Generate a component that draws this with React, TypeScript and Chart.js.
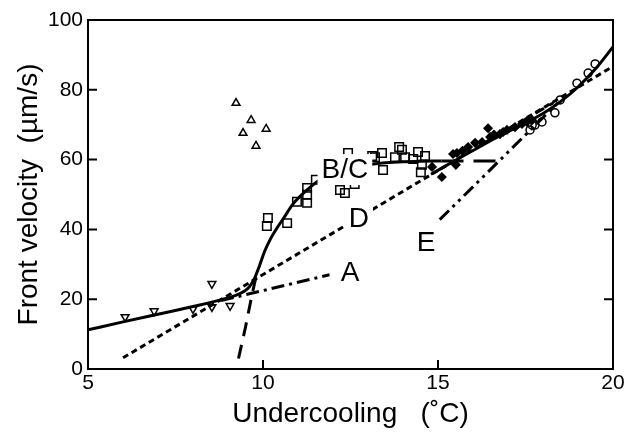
import { useEffect, useRef } from "react";
import { Chart, registerables } from "chart.js";
Chart.register(...registerables);

// ---- data ----
const xTickValues = [5, 10, 15, 20];
const yTickValues = [0, 20, 40, 60, 80, 100];

const triDownX = [6.06, 6.89, 8.0, 8.54, 8.54, 9.06];
const triDownY = [14.9, 16.6, 17.2, 24.4, 17.8, 18.1];

const triUpX = [9.23, 9.43, 9.66, 9.8, 10.09];
const triUpY = [76.2, 67.6, 71.3, 63.9, 68.8];

const squareX = [10.14, 10.11, 10.69, 10.97, 11.26, 11.26, 11.26, 11.51, 12.2, 12.34, 12.43, 12.62,
  13.12, 13.2, 13.4, 13.43, 13.77, 13.89, 13.97, 14.06, 14.29, 14.43, 14.63, 14.51, 14.54];
const squareY = [43.3, 41.0, 41.8, 47.9, 47.6, 49.9, 51.9, 54.2, 51.3, 50.4, 61.9, 53.0,
  61.0, 60.7, 61.9, 57.0, 60.7, 63.6, 62.8, 60.7, 60.2, 62.2, 61.0, 56.4, 58.5];

const diamondX = [14.83, 15.11, 15.43, 15.54, 15.51, 15.7, 15.86, 16.06, 16.26, 16.43, 16.49, 16.6,
  16.77, 16.86, 16.97, 17.2, 17.4, 17.54, 17.69];
const diamondY = [57.9, 55.0, 61.6, 61.9, 58.5, 62.5, 63.6, 64.8, 65.0, 69.0, 66.5, 67.2,
  67.3, 67.9, 68.5, 69.3, 70.2, 70.8, 71.3];

const circleX = [17.63, 17.69, 17.77, 17.97, 18.34, 18.49, 18.97, 19.29, 19.49];
const circleY = [68.5, 69.9, 69.9, 70.8, 73.4, 77.1, 81.9, 84.8, 87.4];

// fitted curves / lines
const lowCurveX = [5, 6, 7, 8, 8.8, 9.2, 9.45, 9.6, 9.75, 9.9, 10.05, 10.2, 10.4, 10.6, 10.86, 11.26, 11.6, 12.3, 13.0, 13.5, 14.0, 14.5, 15.1];
const lowCurveY = [11.2, 13.5, 15.7, 17.9, 19.8, 21.0, 22.2, 23.4, 25.8, 29.6, 33.8, 37.0, 40.4, 43.4, 47.3, 51.3, 54.0, 56.9, 58.5, 59.1, 59.4, 59.5, 59.6];

const steepDashX = [9.3, 9.5, 9.65, 9.8];
const steepDashY = [3.0, 12.0, 19.5, 26.5];

const plateauDashX = [15.1, 16.0, 16.75, 16.85];
const plateauDashY = [59.6, 59.6, 59.6, 60.4];

const lineAX = [8.8, 11.9];
const lineAY = [19.6, 27.0];

const lineDX = [6.0, 20.0];
const lineDY = [3.2, 86.7];

const lineEX = [15.05, 18.5];
const lineEY = [42.8, 77.0];

const upperCurveX = [14.8, 15.5, 16.0, 16.5, 17.0, 17.5, 18.0, 18.5, 19.0, 19.5, 20.0];
const upperCurveY = [55.8, 59.8, 62.6, 65.4, 68.0, 70.5, 73.2, 76.6, 80.8, 86.0, 92.3];

const upperDashX = [16.6, 18.3];
const upperDashY = [66.3, 76.3];

const labelTexts = ["B/C", "D", "A", "E"];
const labelXs = [12.34, 12.74, 12.49, 14.66];
const labelYs = [57.3, 43.3, 27.8, 36.4];

const xTitle = "Undercooling   (\u02DAC)";
const yTitle = "Front velocity  (\u00B5m/s)";

const FONT = "'Liberation Sans', Arial, Helvetica, sans-serif";

const pts = (xs: number[], ys: number[]) => xs.map((x, i) => ({ x, y: ys[i] }));

const framePlugin = {
  id: "framePlugin",
  afterDatasetsDraw(chart: any) {
    const { ctx, chartArea: a, scales } = chart;
    const xs = scales.x;
    const ys = scales.y;
    ctx.save();
    // labels with white boxes
    ctx.font = `28px ${FONT}`;
    ctx.textAlign = "center";
    ctx.textBaseline = "middle";
    labelTexts.forEach((t, i) => {
      const px = xs.getPixelForValue(labelXs[i]);
      const py = ys.getPixelForValue(labelYs[i]);
      const w = ctx.measureText(t).width;
      ctx.fillStyle = "#fff";
      ctx.fillRect(px - w / 2 - 4, py - 15, w + 8, 31);
      ctx.fillStyle = "#000";
      ctx.fillText(t, px, py + 1);
    });
    // frame
    ctx.strokeStyle = "#000";
    ctx.lineWidth = 2;
    ctx.strokeRect(a.left, a.top, a.right - a.left, a.bottom - a.top);
    // inward ticks
    const tl = 9;
    ctx.beginPath();
    xTickValues.forEach((v) => {
      const px = xs.getPixelForValue(v);
      ctx.moveTo(px, a.bottom);
      ctx.lineTo(px, a.bottom - tl);
    });
    yTickValues.forEach((v) => {
      const py = ys.getPixelForValue(v);
      ctx.moveTo(a.left, py);
      ctx.lineTo(a.left + tl, py);
      ctx.moveTo(a.right, py);
      ctx.lineTo(a.right - tl, py);
    });
    ctx.stroke();
    // axis titles
    ctx.fillStyle = "#000";
    ctx.font = `28px ${FONT}`;
    ctx.textAlign = "center";
    ctx.textBaseline = "middle";
    ctx.fillText(xTitle, (a.left + a.right) / 2, 414);
    ctx.translate(29, (a.top + a.bottom) / 2);
    ctx.rotate(-Math.PI / 2);
    ctx.fillText(yTitle, 0, 0);
    ctx.restore();
  },
};

export default function App() {
  const ref = useRef<HTMLCanvasElement | null>(null);
  useEffect(() => {
    if (!ref.current) return;
    const lineDs = (data: any, dash: number[], width = 3, cubic = false) => ({
      type: "scatter",
      data,
      showLine: true,
      borderColor: "#000",
      borderWidth: width,
      borderDash: dash,
      pointRadius: 0,
      pointHoverRadius: 0,
      fill: false,
      cubicInterpolationMode: cubic ? "monotone" : "default",
      tension: 0,
    });
    const markerDs = (data: any, style: string, radius: number, filled: boolean, rotation = 0) => ({
      type: "scatter",
      data,
      showLine: false,
      pointStyle: style,
      pointRadius: radius,
      pointRotation: rotation,
      pointBorderColor: "#000",
      pointBackgroundColor: filled ? "#000" : "rgba(0,0,0,0)",
      pointBorderWidth: 1.5,
      borderColor: "#000",
      backgroundColor: filled ? "#000" : "rgba(0,0,0,0)",
    });
    const chart = new Chart(ref.current, {
      type: "scatter",
      data: {
        datasets: [
          markerDs(pts(triDownX, triDownY), "triangle", 4.5, false, 180),
          markerDs(pts(triUpX, triUpY), "triangle", 4.5, false),
          markerDs(pts(squareX, squareY), "rect", 6, false),
          markerDs(pts(diamondX, diamondY), "rectRot", 4, true),
          markerDs(pts(circleX, circleY), "circle", 4, false),
          lineDs(pts(lineDX, lineDY), [6, 4], 3),
          lineDs(pts(lineAX, lineAY), [13, 5, 3, 5], 3),
          lineDs(pts(lineEX, lineEY), [13, 5, 3, 5, 3, 5], 3),
          lineDs(pts(steepDashX, steepDashY), [14, 9], 3),
          lineDs(pts(plateauDashX, plateauDashY), [22, 10], 3),
          lineDs(pts(upperDashX, upperDashY), [10, 6], 3),
          lineDs(pts(lowCurveX, lowCurveY), [], 3, true),
          lineDs(pts(upperCurveX, upperCurveY), [], 3, true),
        ] as any,
      },
      options: {
        animation: false,
        responsive: true,
        maintainAspectRatio: false,
        events: [],
        layout: { padding: { left: 0, right: 23, top: 20, bottom: 0 } },
        plugins: { legend: { display: false }, tooltip: { enabled: false } },
        scales: {
          x: {
            type: "linear",
            min: 5,
            max: 20,
            afterBuildTicks: (s: any) => {
              s.ticks = xTickValues.map((v) => ({ value: v }));
            },
            afterFit: (s: any) => {
              s.height = 65;
            },
            grid: { display: false, drawTicks: false },
            border: { display: false },
            ticks: {
              color: "#000",
              padding: 2,
              maxRotation: 0,
              autoSkip: false,
              font: { family: FONT, size: 21 },
            },
          },
          y: {
            type: "linear",
            min: 0,
            max: 100,
            afterBuildTicks: (s: any) => {
              s.ticks = yTickValues.map((v) => ({ value: v }));
            },
            afterFit: (s: any) => {
              s.width = 88;
            },
            grid: { display: false, drawTicks: false },
            border: { display: false },
            ticks: {
              color: "#000",
              padding: 5,
              autoSkip: false,
              font: { family: FONT, size: 21 },
            },
          },
        },
      } as any,
      plugins: [framePlugin],
    });
    return () => chart.destroy();
  }, []);
  return (
    <div style={{ position: "fixed", left: 0, top: 0, width: 636, height: 434, background: "#fff" }}>
      <canvas ref={ref} />
    </div>
  );
}
